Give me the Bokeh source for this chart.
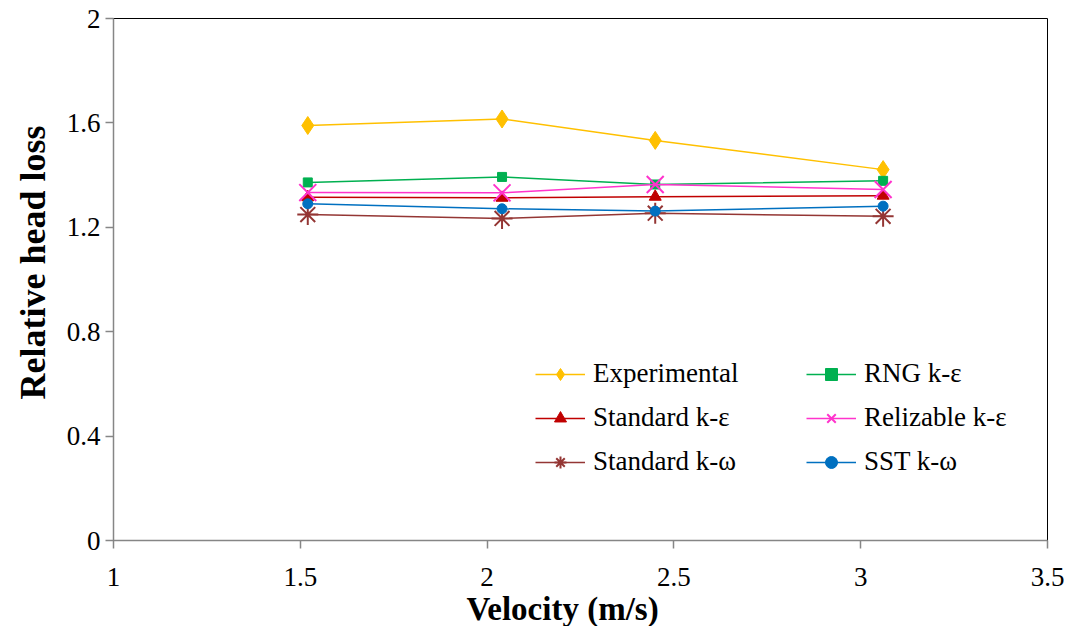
from bokeh.plotting import figure
from bokeh.models import Legend, LegendItem, FixedTicker, Range1d, Title
from bokeh.embed import file_html
from bokeh.resources import INLINE

velocity = [1.52, 2.04, 2.45, 3.06]
experimental = [1.59, 1.615, 1.533, 1.421]
rng_ke = [1.372, 1.393, 1.364, 1.378]
standard_ke = [1.315, 1.313, 1.317, 1.321]
realizable_ke = [1.333, 1.332, 1.364, 1.345]
standard_kw = [1.249, 1.234, 1.254, 1.242]
sst_kw = [1.290, 1.271, 1.262, 1.281]

x_ticks = [1, 1.5, 2, 2.5, 3, 3.5]
x_labels = ["1", "1.5", "2", "2.5", "3", "3.5"]
y_ticks = [0, 0.4, 0.8, 1.2, 1.6, 2]
y_labels = ["0", "0.4", "0.8", "1.2", "1.6", "2"]

x_title = "Velocity (m/s)"
y_title = "Relative head loss"

FONT = "Liberation Serif"
AXIS_GRAY = "#868686"

p = figure(width=1064, height=626, output_backend="svg", toolbar_location=None,
           x_range=Range1d(1, 3.5), y_range=Range1d(0, 2),
           min_border_left=113, min_border_right=17, min_border_top=18, min_border_bottom=85)
p.xgrid.visible = False
p.ygrid.visible = False
p.outline_line_color = "black"
p.outline_line_width = 1

for ax in (p.xaxis[0], p.yaxis[0]):
    ax.axis_line_color = AXIS_GRAY
    ax.axis_line_width = 1.5
    ax.major_tick_line_color = AXIS_GRAY
    ax.major_tick_line_width = 1.5
    ax.major_tick_out = 8
    ax.major_tick_in = 0
    ax.minor_tick_line_color = None
    ax.major_label_text_font = FONT
    ax.major_label_text_font_style = "normal"
    ax.major_label_text_font_size = "27px"
    ax.major_label_text_color = "black"

p.xaxis.ticker = FixedTicker(ticks=x_ticks)
p.xaxis.major_label_overrides = dict(zip(x_ticks, x_labels))
p.yaxis.ticker = FixedTicker(ticks=y_ticks)
p.yaxis.major_label_overrides = dict(zip(y_ticks, y_labels))
p.xaxis.major_label_standoff = 19
p.yaxis.major_label_standoff = 5

# axis titles as side-panel titles (slightly off-centre, as in the reference)
p.add_layout(Title(text=x_title, align="left", offset=353, standoff=0,
                   text_font=FONT, text_font_style="bold", text_font_size="33px",
                   text_color="black"), "below")
p.add_layout(Title(text=y_title, align="left", offset=141, standoff=21,
                   text_font=FONT, text_font_style="bold", text_font_size="36px",
                   text_color="black"), "left")

series = [
    ("Experimental", experimental, "#FFC000", "diamond", 18),
    ("RNG k-ε", rng_ke, "#00B050", "square", 9),
    ("Standard k-ε", standard_ke, "#C00000", "triangle", 12),
    ("Relizable k-ε", realizable_ke, "#FF33CC", "x", 24),
    ("Standard k-ω", standard_kw, "#943634", "asterisk", 21),
    ("SST k-ω", sst_kw, "#0070C0", "circle", 10),
]

items = []
for name, vals, color, marker, size in series:
    ln = p.line(velocity, vals, line_color=color, line_width=1.5)
    if marker in ("x", "asterisk"):
        sc = p.scatter(velocity, vals, marker=marker, size=size, line_color=color, line_width=2)
    else:
        sc = p.scatter(velocity, vals, marker=marker, size=size, fill_color=color, line_color=color)
    items.append(LegendItem(label=name, renderers=[ln, sc]))

def make_legend(its, x, y):
    lg = Legend(items=its, location=(x, y), orientation="vertical")
    lg.label_text_font = FONT
    lg.label_text_font_size = "27px"
    lg.label_text_color = "black"
    lg.glyph_width = 50
    lg.glyph_height = 30
    lg.label_height = 30
    lg.spacing = 13
    lg.label_standoff = 8
    lg.padding = 0
    lg.margin = 0
    lg.border_line_color = None
    lg.background_fill_alpha = 0
    return lg

p.add_layout(make_legend([items[0], items[2], items[4]], 422, 63))
p.add_layout(make_legend([items[1], items[3], items[5]], 693, 63))

open("out.html", "w").write(file_html(p, INLINE))
